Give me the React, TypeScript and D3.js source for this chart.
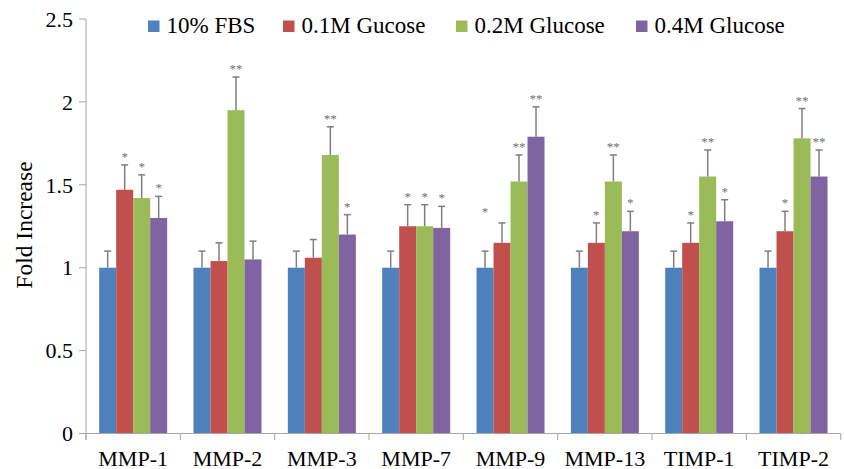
import React from "react";
import * as d3 from "d3";

const categories = ["MMP-1", "MMP-2", "MMP-3", "MMP-7", "MMP-9", "MMP-13", "TIMP-1", "TIMP-2"];
const seriesNames = ["10% FBS", "0.1M Gucose", "0.2M Glucose", "0.4M Glucose"];
const seriesColors = ["#4F81BD", "#C0504D", "#9BBB59", "#8064A2"];

const fbs = [1, 1, 1, 1, 1, 1, 1, 1];
const g01 = [1.47, 1.04, 1.06, 1.25, 1.15, 1.15, 1.15, 1.22];
const g02 = [1.42, 1.95, 1.68, 1.25, 1.52, 1.52, 1.55, 1.78];
const g04 = [1.3, 1.05, 1.2, 1.24, 1.79, 1.22, 1.28, 1.55];

const fbsErr = [0.1, 0.1, 0.1, 0.1, 0.1, 0.1, 0.1, 0.1];
const g01Err = [0.15, 0.11, 0.11, 0.13, 0.12, 0.12, 0.12, 0.12];
const g02Err = [0.14, 0.2, 0.17, 0.13, 0.16, 0.16, 0.16, 0.18];
const g04Err = [0.13, 0.11, 0.12, 0.13, 0.18, 0.12, 0.13, 0.16];

const fbsStars = ["", "", "", "", "", "", "", ""];
const g01Stars = ["*", "", "", "*", "*", "*", "*", "*"];
const g02Stars = ["*", "**", "**", "*", "**", "**", "**", "**"];
const g04Stars = ["*", "", "*", "*", "**", "*", "*", "**"];
// bar offset for the star label (MMP-9 red star sits over the blue bar)
const g01StarShift = [0, 0, 0, 0, -1, 0, 0, 0];

const yTicks = [0, 0.5, 1, 1.5, 2, 2.5];
const yTickLabels = ["0", "0.5", "1", "1.5", "2", "2.5"];

const values = [fbs, g01, g02, g04];
const errors = [fbsErr, g01Err, g02Err, g04Err];
const stars = [fbsStars, g01Stars, g02Stars, g04Stars];
const starShifts = [null, g01StarShift, null, null];

const W = 844;
const H = 469;
const left = 86;
const right = 840.7;
const top = 19;
const bottom = 433.5;
const serif = { fontFamily: '"Liberation Serif", "Times New Roman", serif' };

export default function App() {
  const y = d3.scaleLinear().domain([0, 2.5]).range([bottom, top]);
  const x = d3.scaleBand<string>().domain(categories).range([left, right]).paddingInner(0).paddingOuter(0);
  const xs = d3
    .scaleBand<number>()
    .domain([0, 1, 2, 3])
    .range([0, x.bandwidth()])
    .paddingInner(0)
    .paddingOuter(0.775);
  const bw = xs.bandwidth();
  const boundaries = categories.map((c) => x(c) as number).concat([right]);

  const legendX = [148, 283, 456, 636];

  return (
    <svg
      width={W}
      height={H}
      style={{ position: "absolute", left: 0, top: 0, background: "#fff" }}
    >
      {/* bars */}
      {values.map((vals, s) =>
        vals.map((v, i) => (
          <rect
            key={`b${s}-${i}`}
            x={(x(categories[i]) as number) + (xs(s) as number)}
            y={y(v)}
            width={bw}
            height={y(0) - y(v)}
            fill={seriesColors[s]}
          />
        ))
      )}
      {/* error bars */}
      {values.map((vals, s) =>
        vals.map((v, i) => {
          const cx = (x(categories[i]) as number) + (xs(s) as number) + bw / 2;
          const yt = y(v + errors[s][i]);
          return (
            <g key={`e${s}-${i}`} stroke="#7f7f7f" strokeWidth={1.5}>
              <line x1={cx} x2={cx} y1={y(v)} y2={yt} />
              <line x1={cx - 3.5} x2={cx + 3.5} y1={yt} y2={yt} />
            </g>
          );
        })
      )}
      {/* significance marks */}
      {values.map((vals, s) =>
        vals.map((v, i) => {
          const t = stars[s][i];
          if (!t) return null;
          const shift = starShifts[s] ? (starShifts[s] as number[])[i] : 0;
          const cx = (x(categories[i]) as number) + (xs(s + shift) as number) + bw / 2;
          const yt = y(v + errors[s][i]);
          return (
            <text
              key={`s${s}-${i}`}
              x={cx}
              y={yt - (shift ? 7 : 4)}
              textAnchor="middle"
              fontSize={13}
              fill="#707070"
              style={serif}
            >
              {t}
            </text>
          );
        })
      )}
      {/* y axis */}
      <line x1={left} x2={left} y1={top} y2={bottom + 6.5} stroke="#a6a6a6" strokeWidth={1} />
      {yTicks.map((t, i) => (
        <g key={`yt${i}`}>
          <line x1={left - 7} x2={left} y1={y(t)} y2={y(t)} stroke="#a6a6a6" strokeWidth={1} />
          <text x={73} y={y(t)} dy="0.35em" textAnchor="end" fontSize={22} fill="#000" style={serif}>
            {yTickLabels[i]}
          </text>
        </g>
      ))}
      {/* x axis */}
      <line x1={left} x2={right} y1={bottom} y2={bottom} stroke="#a6a6a6" strokeWidth={1} />
      {boundaries.map((b, i) => (
        <line key={`xt${i}`} x1={b} x2={b} y1={bottom} y2={bottom + 6.5} stroke="#a6a6a6" strokeWidth={1} />
      ))}
      {categories.map((c) => (
        <text
          key={`xl${c}`}
          x={(x(c) as number) + x.bandwidth() / 2}
          y={466}
          textAnchor="middle"
          fontSize={22}
          fill="#000"
          style={serif}
        >
          {c}
        </text>
      ))}
      {/* y label */}
      <text
        transform={`translate(32,225) rotate(-90)`}
        textAnchor="middle"
        fontSize={23.5}
        fill="#000"
        style={serif}
      >
        Fold Increase
      </text>
      {/* legend */}
      {seriesNames.map((n, s) => (
        <g key={`lg${s}`}>
          <rect x={legendX[s]} y={20.5} width={11.5} height={11.5} fill={seriesColors[s]} />
          <text x={legendX[s] + 18.5} y={33.3} fontSize={23} fill="#000" style={serif}>
            {n}
          </text>
        </g>
      ))}
    </svg>
  );
}
